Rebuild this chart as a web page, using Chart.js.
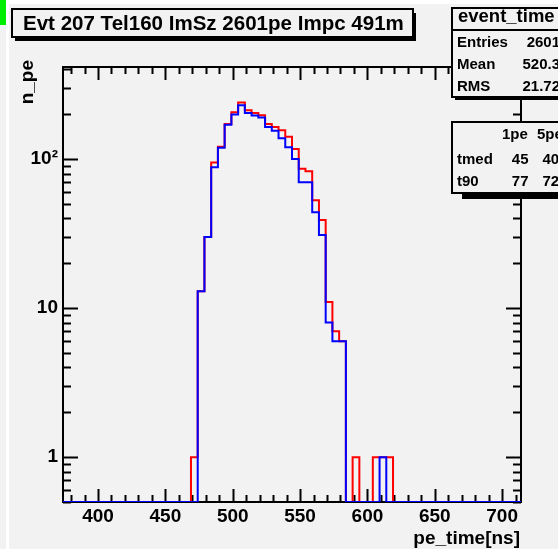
<!DOCTYPE html>
<html>
<head>
<meta charset="utf-8">
<script src="https://cdn.jsdelivr.net/npm/chart.js@4.4.1/dist/chart.umd.min.js"></script>
<style>
  html, body { margin: 0; padding: 0; background: #f2f2f2; }
  canvas { display: block; }
</style>
</head>
<body>
<canvas id="peChart" width="558" height="549"></canvas>
<script>
// histogram binning (ns)
const binWidth = 5
const xMin = 374
const xMax = 714
const firstBin = 469   // left edge of first listed bin

// counts per 5 ns bin, starting at 469 ns
const redCounts = [1, 13, 30, 95, 121, 172, 206, 240, 213, 204, 197, 172, 164, 156, 141, 117, 86, 83, 53, 39, 11, 7, 6, 0, 1, 0, 0, 1, 1, 1]
const blueCounts = [0, 13, 30, 88, 119, 170, 199, 230, 204, 196, 190, 164, 155, 138, 120, 100, 70, 70, 44, 31, 8, 6, 6, 0, 0, 0, 0, 0, 1, 0]

const xTicks = [400, 450, 500, 550, 600, 650, 700]
const yTicks = [1, 10, 100]
const yTickLabels = ["1", "10", "10²"]
const yMin = 0.5
const yMax = 415

const titleText = "Evt 207 Tel160 ImSz 2601pe Impc 491m"
const statsTitle = "event_time"
const statsNames = ["Entries", "Mean", "RMS"]
const statsValues = ["2601", "520.3", "21.72"]
const timeCols = ["1pe", "5pe"]
const timeNames = ["tmed", "t90"]
const time1pe = ["45", "77"]
const time5pe = ["40", "72"]

const FONT = '"Liberation Sans", Arial, Helvetica, sans-serif'
const BG = '#f2f2f2'

function histPoints(counts) {
    const pts = []
    const nBins = Math.round((xMax - xMin) / binWidth)
    for (let i = 0; i < nBins; i++) {
        const edge = xMin + i * binWidth
        const k = Math.round((edge - firstBin) / binWidth)
        const c = (k >= 0 && k < counts.length) ? counts[k] : 0
        pts.push({ x: edge, y: Math.max(c, yMin) })
    }
    pts.push({ x: xMax, y: pts[pts.length - 1].y })
    return pts
}

// background, strips, frame, ticks, boxes
const rootLook = {
    id: 'rootLook',
    beforeDraw(chart) {
        const c = chart.ctx
        c.save()
        c.fillStyle = BG
        c.fillRect(0, 0, chart.width, chart.height)
        c.fillStyle = '#ffffff'
        c.fillRect(6, 0, 3, chart.height)
        c.fillRect(6, 0, chart.width, 4)
        c.fillStyle = '#00ee00'
        c.fillRect(0, 0, 6, 25)
        c.restore()
    },
    beforeDatasetsDraw(chart) {
        const c = chart.ctx
        const a = chart.chartArea
        const xs = chart.scales.x
        const ys = chart.scales.y
        c.save()
        c.strokeStyle = '#000'
        c.lineWidth = 2
        c.beginPath()
        // x ticks, bottom and top
        for (let v = 380; v <= 710; v += 10) {
            const px = Math.round(xs.getPixelForValue(v)) + 0.5
            const len = v % 50 === 0 ? 13 : 7
            c.moveTo(px, a.bottom); c.lineTo(px, a.bottom - len)
            c.moveTo(px, a.top); c.lineTo(px, a.top + len)
        }
        // y ticks, left and right
        const yMinor = []
        for (const d of [0.1, 1, 10, 100]) {
            for (let m = 1; m <= 9; m++) yMinor.push(m * d)
        }
        for (const v of yMinor) {
            if (v < yMin || v > yMax) continue
            const py = Math.round(ys.getPixelForValue(v)) + 0.5
            const major = yTicks.includes(v)
            const len = major ? 15 : 8
            c.moveTo(a.left, py); c.lineTo(a.left + len, py)
            c.moveTo(a.right, py); c.lineTo(a.right - len, py)
        }
        c.stroke()
        c.strokeRect(a.left, a.top, a.right - a.left, a.bottom - a.top)
        c.restore()
    },
    afterDraw(chart) {
        const c = chart.ctx
        const a = chart.chartArea
        c.save()
        c.fillStyle = '#000'

        // axis titles
        c.font = 'bold 19px ' + FONT
        c.textAlign = 'right'
        c.textBaseline = 'alphabetic'
        c.fillText('pe_time[ns]', a.right - 1, 544)
        c.save()
        c.translate(33, 60)
        c.rotate(-Math.PI / 2)
        c.fillText('n_pe', 0, 0)
        c.restore()

        // title box
        const drawBox = (x, y, w, h, sx, sy) => {
            c.fillStyle = '#000'
            c.fillRect(x + sx, y + sy, w, h)
            c.fillStyle = BG
            c.fillRect(x, y, w, h)
            c.strokeStyle = '#000'
            c.lineWidth = 2
            c.strokeRect(x, y, w, h)
        }
        drawBox(12, 9, 401, 28, 3, 4)
        let fs = 21
        c.font = 'bold ' + fs + 'px ' + FONT
        const tw = c.measureText(titleText).width
        fs = fs * 381 / tw
        c.font = 'bold ' + fs.toFixed(2) + 'px ' + FONT
        c.fillStyle = '#000'
        c.textAlign = 'left'
        c.fillText(titleText, 23, 30)

        // stats box
        drawBox(452, 8, 120, 89, 3, 3)
        c.beginPath()
        c.moveTo(452, 30); c.lineTo(560, 30)
        c.stroke()
        c.fillStyle = '#000'
        c.font = 'bold 18.5px ' + FONT
        c.textAlign = 'left'
        c.fillText(statsTitle, 458, 22)
        c.font = 'bold 15px ' + FONT
        const sBase = [47, 68.5, 91]
        statsNames.forEach((n, i) => {
            c.textAlign = 'left'
            c.fillText(n, 457, sBase[i])
            c.textAlign = 'right'
            c.fillText(statsValues[i], 560, sBase[i])
        })

        // timing box
        drawBox(452, 122, 120, 71, 10, 6)
        c.fillStyle = '#000'
        c.font = 'bold 15px ' + FONT
        c.textAlign = 'left'
        c.fillText(timeCols[0], 502, 138.5)
        c.fillText(timeCols[1], 537, 138.5)
        const tBase = [163.5, 185.5]
        timeNames.forEach((n, i) => {
            c.textAlign = 'left'
            c.fillText(n, 457, tBase[i])
            c.textAlign = 'right'
            c.fillText(time1pe[i], 528.5, tBase[i])
            c.textAlign = 'left'
            c.fillText(time5pe[i], 542.5, tBase[i])
        })
        c.restore()
    }
}

const ctx = document.getElementById('peChart')

const config = {
    type: 'line',
    data: {
        datasets: [{
            label: 'n_pe blue',
            data: histPoints(blueCounts),
            borderColor: '#0000ff',
            borderWidth: 2,
            stepped: true,
            pointRadius: 0,
            fill: false
        }, {
            label: 'n_pe red',
            data: histPoints(redCounts),
            borderColor: '#ff0000',
            borderWidth: 2,
            stepped: true,
            pointRadius: 0,
            fill: false
        }]
    },
    options: {
        responsive: false,
        animation: false,
        events: [],
        layout: { padding: { left: 0, right: 37, top: 67, bottom: 0 } },
        plugins: {
            legend: { display: false },
            tooltip: { enabled: false }
        },
        scales: {
            x: {
                type: 'linear',
                min: xMin,
                max: xMax,
                grid: { display: false, drawTicks: false },
                border: { display: false },
                afterBuildTicks: s => { s.ticks = xTicks.map(v => ({ value: v })) },
                afterFit: s => { s.height = 47 },
                ticks: {
                    color: '#000',
                    font: { family: FONT, size: 19, weight: 'bold' },
                    padding: 3,
                    maxRotation: 0,
                    autoSkip: false
                }
            },
            y: {
                type: 'logarithmic',
                min: yMin,
                max: yMax,
                grid: { display: false, drawTicks: false },
                border: { display: false },
                afterBuildTicks: s => { s.ticks = yTicks.map(v => ({ value: v })) },
                afterFit: s => { s.width = 63 },
                ticks: {
                    color: '#000',
                    font: { family: FONT, size: 19, weight: 'bold' },
                    padding: 5,
                    autoSkip: false,
                    callback: v => yTickLabels[yTicks.indexOf(v)]
                }
            }
        }
    },
    plugins: [rootLook]
}

const myChart = new Chart(ctx, config)
</script>
</body>
</html>
